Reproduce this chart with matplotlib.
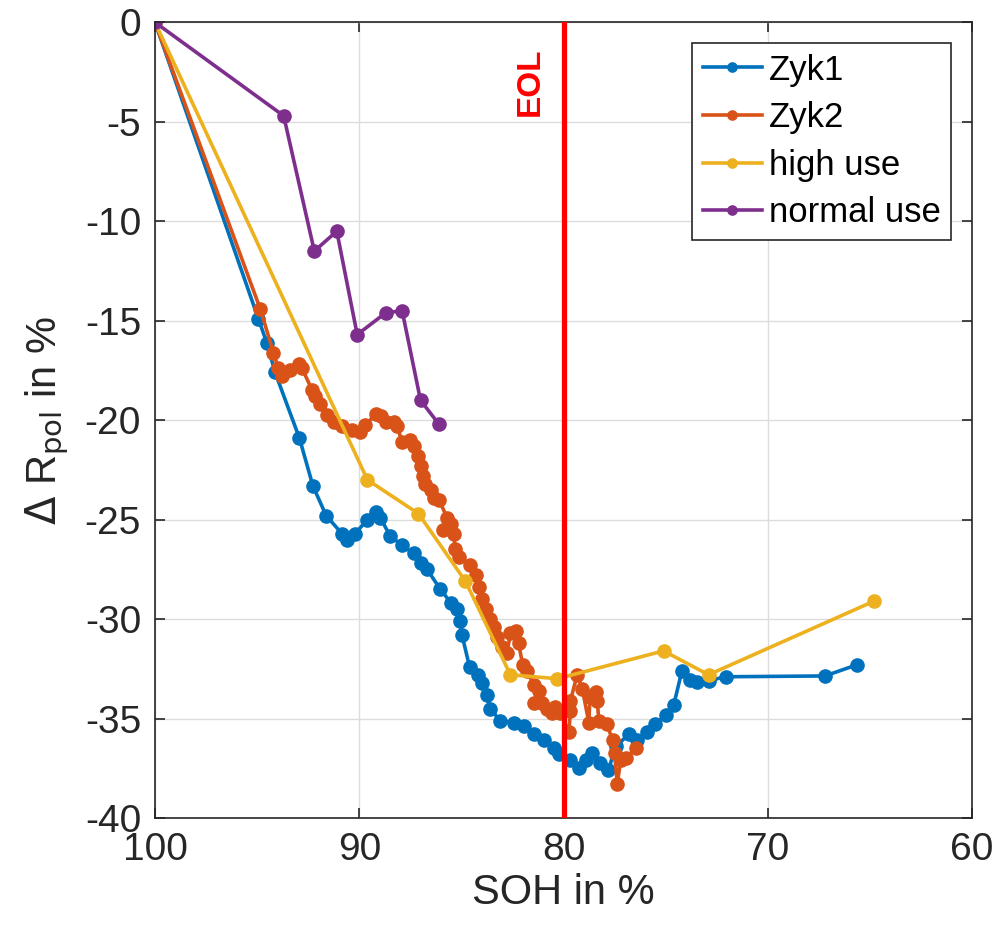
import matplotlib.pyplot as plt
import numpy as np

plt.rcParams['font.family'] = ['Liberation Sans', 'DejaVu Sans']
plt.rcParams['axes.unicode_minus'] = False

# data
soh_zyk1 = [100, 94.94, 94.53, 94.12, 92.93, 92.27, 91.62, 90.85, 90.6, 90.2, 89.6, 89.2,
            88.97, 88.5, 87.9, 87.34, 87.0, 86.68, 86.03, 85.5, 85.2, 85.05, 84.97, 84.6,
            84.2, 83.99, 83.74, 83.6, 83.1, 82.4, 81.95, 81.45, 80.96, 80.47, 80.2, 79.66,
            79.25, 78.9, 78.6, 78.2, 77.8, 77.45, 76.8, 76.4, 75.9, 75.5, 75.0, 74.6, 74.2,
            73.8, 73.45, 72.9, 72.06, 67.2, 65.64]
r_zyk1 = [0, -14.9, -16.1, -17.6, -20.9, -23.3, -24.8, -25.7, -26.0, -25.7, -25.0, -24.6,
          -24.9, -25.8, -26.3, -26.7, -27.2, -27.5, -28.5, -29.2, -29.5, -30.1, -30.8, -32.4,
          -32.8, -33.2, -33.8, -34.5, -35.1, -35.2, -35.4, -35.8, -36.1, -36.5, -36.8, -37.1,
          -37.5, -37.1, -36.75, -37.25, -37.6, -36.4, -35.8, -36.1, -35.7, -35.3, -34.8, -34.3, -32.6,
          -33.07, -33.15, -33.1, -32.9, -32.86, -32.3]

soh_zyk2 = [100, 94.85, 94.2, 93.96, 93.8, 93.4, 92.97, 92.8, 92.3, 92.16, 91.9, 91.6, 91.26,
            90.85, 90.36, 89.95, 89.7, 89.2, 88.95, 88.7, 88.3, 88.15, 87.9, 87.5, 87.34,
            87.1, 87.0, 86.9, 86.76, 86.5, 86.36, 86.1, 85.7, 85.5, 85.9, 85.38, 85.3, 85.1,
            84.6, 84.3, 84.15, 83.99, 83.8, 83.6, 83.4, 83.25, 83.0, 82.76, 82.6, 82.35,
            82.2, 82.0, 81.8, 81.45, 81.2, 81.45, 81.05, 80.8, 80.56, 80.4, 80.15, 79.74,
            79.66, 79.66, 79.33, 79.08, 78.76, 78.7, 78.4, 78.35, 78.27, 77.86, 77.6, 77.5,
            77.37, 77.2, 76.96, 76.47]
r_zyk2 = [0, -14.4, -16.6, -17.4, -17.8, -17.5, -17.2, -17.4, -18.5, -18.8, -19.2, -19.75, -20.1,
          -20.3, -20.5, -20.6, -20.25, -19.7, -19.8, -20.1, -20.1, -20.3, -21.1, -21.0, -21.3,
          -21.8, -22.3, -22.8, -23.2, -23.5, -23.9, -24.0, -24.9, -25.2, -25.5, -25.7, -26.5, -26.9,
          -27.3, -27.8, -28.4, -29.0, -29.5, -30.0, -30.4, -30.9, -31.4, -31.7, -30.7, -30.6,
          -31.2, -32.3, -32.6, -33.3, -33.6, -34.2, -34.2, -34.5, -34.7, -34.4, -34.7, -35.7,
          -34.6, -34.1, -32.8, -33.5, -35.2, -33.9, -33.65, -34.1, -35.1, -35.3, -36.1, -36.75,
          -38.3, -37.1, -37.0, -36.5]

soh_high = [100, 89.6, 87.1, 84.8, 82.6, 80.3, 75.1, 72.9, 64.8]
r_high = [0, -23.0, -24.7, -28.1, -32.8, -33.0, -31.6, -32.8, -29.1]

soh_normal = [100, 93.7, 92.2, 91.1, 90.1, 88.7, 87.9, 87.0, 86.1]
r_normal = [0, -4.7, -11.5, -10.5, -15.7, -14.6, -14.5, -19.0, -20.2]

eol = 80

fig = plt.figure(figsize=(10, 9.31), dpi=100)
ax = fig.add_axes([0.155, 0.1214, 0.817, 0.8546])

ax.plot(soh_zyk1, r_zyk1, '-o', color='#0072BD', lw=2.6, ms=9.5, label='Zyk1')
ax.plot(soh_zyk2, r_zyk2, '-o', color='#D95319', lw=2.6, ms=9.5, label='Zyk2')
ax.plot(soh_high, r_high, '-o', color='#EDB120', lw=2.6, ms=9.5, label='high use')
ax.plot(soh_normal, r_normal, '-o', color='#7E2F8E', lw=2.6, ms=9.5, label='normal use')

ax.axvline(eol, color='red', lw=3.8, zorder=5)
ax.text(81.65, -3.0, 'EOL', color='red', fontsize=24, fontweight='bold',
        rotation=90, ha='center', va='center')

ax.set_xlim(100, 60)
ax.set_ylim(-40, 0)
ax.set_xticks(np.arange(100, 59, -10))
ax.set_yticks(np.arange(-40, 1, 5))
ax.grid(True, color='#dcdcdc', lw=1)
ax.set_axisbelow(True)
ax.tick_params(direction='in', top=True, right=True, labelsize=28, colors='#262626',
               length=7, width=1.2, pad=10)
for s in ax.spines.values():
    s.set_color('#262626')
    s.set_linewidth(1.2)

ax.set_xlabel('SOH in %', fontsize=30, color='#262626', labelpad=4)
ax.set_ylabel(r'$\Delta$ R$_{\mathrm{pol}}$ in %', fontsize=30, color='#262626', labelpad=10)

leg = ax.legend(loc='upper right', fontsize=25, fancybox=False, framealpha=1,
                edgecolor='#262626', handlelength=1.7, handletextpad=0.2,
                borderpad=0.3, labelspacing=0.42, borderaxespad=0.6, markerscale=0.7)
leg.get_frame().set_linewidth(1.2)

plt.savefig('out.png', dpi=100)
